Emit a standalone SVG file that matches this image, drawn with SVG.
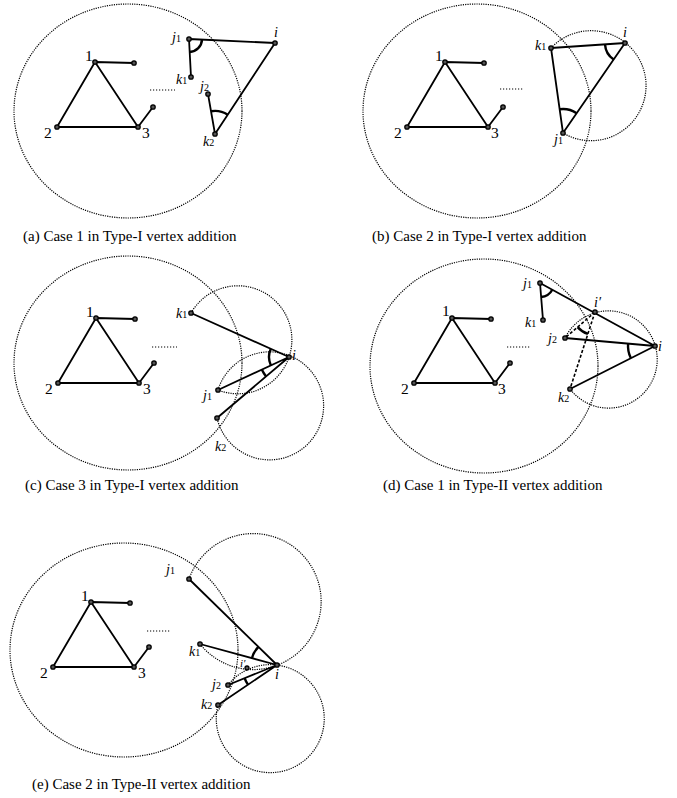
<svg xmlns="http://www.w3.org/2000/svg" width="677" height="798" viewBox="0 0 677 798">
<style>
.e{stroke:#000;stroke-width:1.8;fill:none;stroke-linecap:round}
.a{stroke:#000;stroke-width:2.4;fill:none}
.c{stroke:#000;stroke-width:1.2;fill:none;stroke-dasharray:1.2 1.1}
.d{stroke:#000;stroke-width:1.6;fill:none;stroke-dasharray:3 2}
.dots{stroke:#000;stroke-width:1.2;stroke-dasharray:1.2 1.8}
.n{fill:#555;stroke:#000;stroke-width:1.3}
text{font-family:"Liberation Serif","Times New Roman",serif;fill:#000}
.num{font-size:15.5px}
.it{font-size:14px;font-style:italic}
.sub{font-size:10px;font-style:normal}
.cap{font-size:15px}
</style>
<rect width="677" height="798" fill="#fff"/>

<!-- Panel (a) -->
<g id="panel-a">
<ellipse class="c" cx="128" cy="111" rx="114" ry="107"/>
<line class="dots" x1="150" y1="90" x2="175" y2="90"/>
<g id="a-connectors">
<path class="e" d="M95,62 L134,63 M95,62 L57,127 M95,62 L138,127 M57,127 L138,127 M138,127 L153,107"/>
<path class="e" d="M189,39 L275,43 M189,39 L191,77 M208,94 L215,134 M215,134 L275,43"/>
<path class="a" d="M202,39.6 A13,13 0 0 1 189.7,52"/>
<path class="a" d="M211,111.3 A23,23 0 0 1 227.7,114.8"/>
</g>
<g id="a-n1"><circle class="n" cx="95" cy="62" r="2.2"/><text class="num" x="85" y="61">1</text></g>
<g id="a-n1r"><circle class="n" cx="134" cy="63" r="2.2"/></g>
<g id="a-n2"><circle class="n" cx="57" cy="127" r="2.2"/><text class="num" x="44" y="138">2</text></g>
<g id="a-n3"><circle class="n" cx="138" cy="127" r="2.2"/><text class="num" x="142" y="138">3</text></g>
<g id="a-n3r"><circle class="n" cx="153" cy="107" r="2.2"/></g>
<g id="a-j1"><circle class="n" cx="189" cy="39" r="2.2"/><text class="it" x="172" y="42">j<tspan class="sub">1</tspan></text></g>
<g id="a-i"><circle class="n" cx="275" cy="43" r="2.2"/><text class="it" x="274" y="37">i</text></g>
<g id="a-k1"><circle class="n" cx="191" cy="77" r="2.2"/><text class="it" x="176" y="84">k<tspan class="sub">1</tspan></text></g>
<g id="a-j2"><circle class="n" cx="208" cy="94" r="2.2"/><text class="it" x="200" y="91">j<tspan class="sub">2</tspan></text></g>
<g id="a-k2"><circle class="n" cx="215" cy="134" r="2.2"/><text class="it" x="203" y="146">k<tspan class="sub">2</tspan></text></g>
<text class="cap" x="23" y="241">(a) Case 1 in Type-I vertex addition</text>
</g>

<!-- Panel (b) -->
<g id="panel-b">
<ellipse class="c" cx="477" cy="111" rx="114" ry="107"/>
<path class="c" d="M551,48 A55,55 0 1 1 563,133"/>
<line class="dots" x1="500" y1="89" x2="523" y2="89"/>
<g id="b-connectors">
<path class="e" d="M445,62 L484,63 M445,62 L407,127 M445,62 L488,127 M407,127 L488,127 M488,127 L503,107"/>
<path class="e" d="M551,48 L625,43 M551,48 L563,133 M563,133 L625,43"/>
<path class="a" d="M605,44.3 A20,20 0 0 0 613.7,59.5"/>
<path class="a" d="M559.6,109.2 A24,24 0 0 1 576.6,113.2"/>
</g>
<g id="b-n1"><circle class="n" cx="445" cy="62" r="2.2"/><text class="num" x="435" y="61">1</text></g>
<g id="b-n1r"><circle class="n" cx="484" cy="63" r="2.2"/></g>
<g id="b-n2"><circle class="n" cx="407" cy="127" r="2.2"/><text class="num" x="394" y="138">2</text></g>
<g id="b-n3"><circle class="n" cx="488" cy="127" r="2.2"/><text class="num" x="491" y="138">3</text></g>
<g id="b-n3r"><circle class="n" cx="503" cy="107" r="2.2"/></g>
<g id="b-k1"><circle class="n" cx="551" cy="48" r="2.2"/><text class="it" x="535" y="50">k<tspan class="sub">1</tspan></text></g>
<g id="b-i"><circle class="n" cx="625" cy="43" r="2.2"/><text class="it" x="623" y="37">i</text></g>
<g id="b-j1"><circle class="n" cx="563" cy="133" r="2.2"/><text class="it" x="554" y="144">j<tspan class="sub">1</tspan></text></g>
<text class="cap" x="372" y="241">(b) Case 2 in Type-I vertex addition</text>
</g>

<!-- Panel (c) -->
<g id="panel-c">
<ellipse class="c" cx="128" cy="363" rx="114" ry="107"/>
<path class="c" d="M191,313 A54,54 0 1 1 218,390"/>
<path class="c" d="M218,390 A54,54 0 1 1 217,418"/>
<line class="dots" x1="152" y1="347" x2="177" y2="347"/>
<g id="c-connectors">
<path class="e" d="M96,318 L135,319 M96,318 L58,383 M96,318 L139,383 M58,383 L139,383 M139,383 L154,363"/>
<path class="e" d="M191,313 L289,357 M218,390 L289,357 M217,418 L289,357"/>
<path class="a" d="M270.8,348.8 A20,20 0 0 0 270.9,365.4"/>
<path class="a" d="M261.8,369.6 A30,30 0 0 0 266.1,376.4"/>
</g>
<g id="c-n1"><circle class="n" cx="96" cy="318" r="2.2"/><text class="num" x="86" y="317">1</text></g>
<g id="c-n1r"><circle class="n" cx="135" cy="319" r="2.2"/></g>
<g id="c-n2"><circle class="n" cx="58" cy="383" r="2.2"/><text class="num" x="45" y="394">2</text></g>
<g id="c-n3"><circle class="n" cx="139" cy="383" r="2.2"/><text class="num" x="143" y="394">3</text></g>
<g id="c-n3r"><circle class="n" cx="154" cy="363" r="2.2"/></g>
<g id="c-k1"><circle class="n" cx="191" cy="313" r="2.2"/><text class="it" x="176" y="318">k<tspan class="sub">1</tspan></text></g>
<g id="c-i"><circle class="n" cx="289" cy="357" r="2.2"/><text class="it" x="292" y="360">i</text></g>
<g id="c-j1"><circle class="n" cx="218" cy="390" r="2.2"/><text class="it" x="203" y="400">j<tspan class="sub">1</tspan></text></g>
<g id="c-k2"><circle class="n" cx="217" cy="418" r="2.2"/><text class="it" x="215" y="451">k<tspan class="sub">2</tspan></text></g>
<text class="cap" x="25" y="490">(c) Case 3 in Type-I vertex addition</text>
</g>

<!-- Panel (d) -->
<g id="panel-d">
<ellipse class="c" cx="484" cy="366" rx="114" ry="107"/>
<path class="c" d="M565,338 A48.6,48.6 0 1 1 570,389"/>
<line class="dots" x1="507" y1="347" x2="530" y2="347"/>
<g id="d-connectors">
<path class="e" d="M452,318 L491,319 M452,318 L414,383 M452,318 L495,383 M414,383 L495,383 M495,383 L510,363"/>
<path class="e" d="M540,283 L543,320 M540,283 L655,346 M565,338 L655,346 M570,389 L655,346"/>
<path class="d" d="M595,312 L565,338 M595,312 L570,389"/>
<path class="a" d="M541.1,297 A14,14 0 0 0 552.3,289.7"/>
<path class="a" d="M577.6,327.1 A23,23 0 0 0 587.9,333.9"/>
<path class="a" d="M628.1,343.6 A27,27 0 0 0 630.9,358.2"/>
</g>
<g id="d-n1"><circle class="n" cx="452" cy="318" r="2.2"/><text class="num" x="442" y="316">1</text></g>
<g id="d-n1r"><circle class="n" cx="491" cy="319" r="2.2"/></g>
<g id="d-n2"><circle class="n" cx="414" cy="383" r="2.2"/><text class="num" x="401" y="394">2</text></g>
<g id="d-n3"><circle class="n" cx="495" cy="383" r="2.2"/><text class="num" x="498" y="394">3</text></g>
<g id="d-n3r"><circle class="n" cx="510" cy="363" r="2.2"/></g>
<g id="d-j1"><circle class="n" cx="540" cy="283" r="2.2"/><text class="it" x="523" y="288">j<tspan class="sub">1</tspan></text></g>
<g id="d-k1"><circle class="n" cx="543" cy="320" r="2.2"/><text class="it" x="525" y="327">k<tspan class="sub">1</tspan></text></g>
<g id="d-ip"><circle class="n" cx="595" cy="312" r="2.2"/><text class="it" x="594" y="307">i′</text></g>
<g id="d-j2"><circle class="n" cx="565" cy="338" r="2.2"/><text class="it" x="548" y="343">j<tspan class="sub">2</tspan></text></g>
<g id="d-i"><circle class="n" cx="655" cy="346" r="2.2"/><text class="it" x="658" y="351">i</text></g>
<g id="d-k2"><circle class="n" cx="570" cy="389" r="2.2"/><text class="it" x="558" y="402">k<tspan class="sub">2</tspan></text></g>
<text class="cap" x="383" y="490">(d) Case 1 in Type-II vertex addition</text>
</g>

<!-- Panel (e) -->
<g id="panel-e">
<ellipse class="c" cx="124" cy="650" rx="114" ry="107"/>
<path class="c" d="M189,579 A68,68 0 1 1 200,644"/>
<path class="c" d="M228,685 A54,54 0 1 1 218,705"/>
<line class="dots" x1="147" y1="631" x2="170" y2="631"/>
<g id="e-connectors">
<path class="e" d="M91,602 L130,603 M91,602 L53,667 M91,602 L134,667 M53,667 L134,667 M134,667 L149,647"/>
<path class="e" d="M189,579 L277,665 M200,644 L277,665 M228,685 L277,665 M218,705 L277,665"/>
<path class="a" d="M258.4,646.8 A26,26 0 0 0 251.9,658.2"/>
<path class="a" d="M244.6,678.2 A35,35 0 0 0 248,684.6"/>
</g>
<g id="e-n1"><circle class="n" cx="91" cy="602" r="2.2"/><text class="num" x="81" y="601">1</text></g>
<g id="e-n1r"><circle class="n" cx="130" cy="603" r="2.2"/></g>
<g id="e-n2"><circle class="n" cx="53" cy="667" r="2.2"/><text class="num" x="40" y="678">2</text></g>
<g id="e-n3"><circle class="n" cx="134" cy="667" r="2.2"/><text class="num" x="138" y="678">3</text></g>
<g id="e-n3r"><circle class="n" cx="149" cy="647" r="2.2"/></g>
<g id="e-j1"><circle class="n" cx="189" cy="579" r="2.2"/><text class="it" x="166" y="574">j<tspan class="sub">1</tspan></text></g>
<g id="e-k1"><circle class="n" cx="200" cy="644" r="2.2"/><text class="it" x="189" y="656">k<tspan class="sub">1</tspan></text></g>
<g id="e-ip"><circle class="n" cx="247" cy="668" r="2"/><text class="it" x="240" y="667" style="font-size:11px">i′</text></g>
<g id="e-i"><circle class="n" cx="277" cy="665" r="2.2"/><text class="it" x="275" y="679">i</text></g>
<g id="e-j2"><circle class="n" cx="228" cy="685" r="2.2"/><text class="it" x="212" y="689">j<tspan class="sub">2</tspan></text></g>
<g id="e-k2"><circle class="n" cx="218" cy="705" r="2.2"/><text class="it" x="201" y="709">k<tspan class="sub">2</tspan></text></g>
<text class="cap" x="32" y="789">(e) Case 2 in Type-II vertex addition</text>
</g>
</svg>
